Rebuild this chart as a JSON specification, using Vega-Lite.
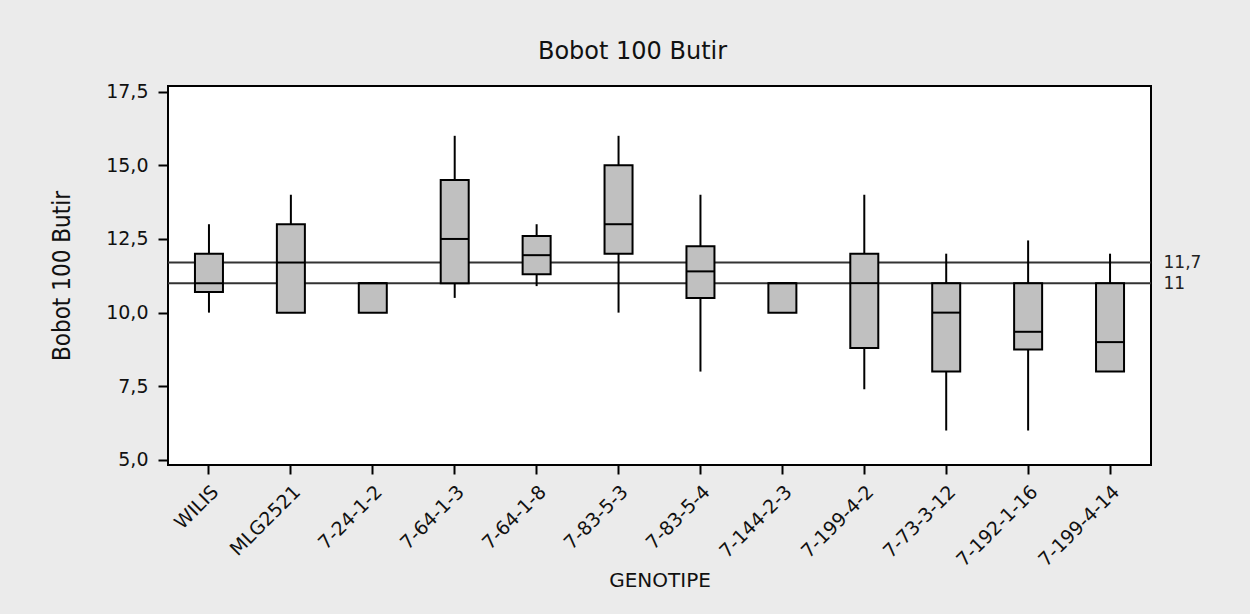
{
  "$schema": "https://vega.github.io/schema/vega-lite/v6.json",
  "width": 983,
  "height": 379,
  "autosize": {"type": "none"},
  "padding": {"left": 168, "top": 86, "right": 99, "bottom": 149},
  "background": "#ebebeb",
  "title": {
    "text": "Bobot 100 Butir",
    "font": "DejaVu Sans",
    "fontSize": 24,
    "fontWeight": "normal",
    "color": "#111111",
    "anchor": "middle",
    "dx": -27,
    "offset": 19
  },
  "data": {
    "values": [
      {"genotype": "WILIS", "min": 10, "q1": 10.7, "median": 11, "q3": 12, "max": 13},
      {"genotype": "MLG2521", "min": 10, "q1": 10, "median": 11.7, "q3": 13, "max": 14},
      {"genotype": "7-24-1-2", "min": 10, "q1": 10, "median": 11, "q3": 11, "max": 11},
      {"genotype": "7-64-1-3", "min": 10.5, "q1": 11, "median": 12.5, "q3": 14.5, "max": 16},
      {"genotype": "7-64-1-8", "min": 10.9, "q1": 11.3, "median": 11.95, "q3": 12.6, "max": 13},
      {"genotype": "7-83-5-3", "min": 10, "q1": 12, "median": 13, "q3": 15, "max": 16},
      {"genotype": "7-83-5-4", "min": 8, "q1": 10.5, "median": 11.4, "q3": 12.25, "max": 14},
      {"genotype": "7-144-2-3", "min": 10, "q1": 10, "median": 11, "q3": 11, "max": 11},
      {"genotype": "7-199-4-2", "min": 7.4, "q1": 8.8, "median": 11, "q3": 12, "max": 14},
      {"genotype": "7-73-3-12", "min": 6, "q1": 8, "median": 10, "q3": 11, "max": 12},
      {"genotype": "7-192-1-16", "min": 6, "q1": 8.75, "median": 9.35, "q3": 11, "max": 12.45},
      {"genotype": "7-199-4-14", "min": 8, "q1": 8, "median": 9, "q3": 11, "max": 12}
    ]
  },
  "layer": [
    {
      "data": {"values": [{"ref": 11.7}, {"ref": 11}]},
      "mark": {"type": "rule", "stroke": "#333333", "strokeWidth": 2},
      "encoding": {
        "y": {
          "field": "ref",
          "type": "quantitative",
          "scale": {"domain": [4.83, 17.69], "nice": false, "zero": false},
          "title": null,
          "axis": {
            "orient": "right",
            "values": [11, 11.7],
            "ticks": false,
            "domain": false,
            "grid": false,
            "labelOverlap": false,
            "labelPadding": 12,
            "labelFont": "DejaVu Sans",
            "labelFontSize": 17,
            "labelColor": "#222222",
            "labelExpr": "replace(toString(datum.value), '.', ',')"
          }
        }
      }
    },
    {
      "mark": {"type": "rule", "stroke": "black", "strokeWidth": 2},
      "encoding": {
        "x": {
          "field": "genotype",
          "type": "nominal",
          "sort": null,
          "scale": {"paddingInner": 0, "paddingOuter": 0},
          "title": "GENOTIPE",
          "axis": {
            "labelAngle": -45,
            "labelFont": "DejaVu Sans",
            "labelFontSize": 19,
            "labelColor": "#111111",
            "labelPadding": 8,
            "labelLimit": 200,
            "tickSize": 9,
            "tickWidth": 2,
            "tickColor": "black",
            "domain": false,
            "titleFont": "DejaVu Sans",
            "titleFontSize": 20,
            "titleFontWeight": "normal",
            "titleColor": "#111111",
            "titlePadding": 1
          }
        },
        "y": {
          "field": "min",
          "type": "quantitative",
          "scale": {"domain": [4.83, 17.69], "nice": false, "zero": false},
          "title": "Bobot 100 Butir",
          "axis": {
            "orient": "left",
            "values": [5, 7.5, 10, 12.5, 15, 17.5],
            "labelExpr": "replace(format(datum.value, '.1f'), '.', ',')",
            "labelFont": "DejaVu Sans",
            "labelFontSize": 19,
            "labelColor": "#111111",
            "labelPadding": 10,
            "tickSize": 10,
            "tickWidth": 2,
            "tickColor": "black",
            "domain": false,
            "grid": false,
            "titleFont": "DejaVu Sans Condensed",
            "titleFontSize": 24,
            "titleFontWeight": "normal",
            "titleColor": "#111111",
            "titlePadding": 31
          }
        },
        "y2": {"field": "max"}
      }
    },
    {
      "mark": {"type": "bar", "size": 28, "fill": "#c0c0c0", "stroke": "black", "strokeWidth": 2},
      "encoding": {
        "x": {"field": "genotype", "type": "nominal", "sort": null},
        "y": {"field": "q1", "type": "quantitative", "axis": null},
        "y2": {"field": "q3"}
      }
    },
    {
      "mark": {"type": "tick", "size": 28, "thickness": 2, "color": "black", "opacity": 1},
      "encoding": {
        "x": {"field": "genotype", "type": "nominal", "sort": null},
        "y": {"field": "median", "type": "quantitative", "axis": null}
      }
    }
  ],
  "resolve": {"axis": {"y": "independent"}},
  "config": {
    "view": {"stroke": "black", "strokeWidth": 2, "fill": "white"}
  }
}
